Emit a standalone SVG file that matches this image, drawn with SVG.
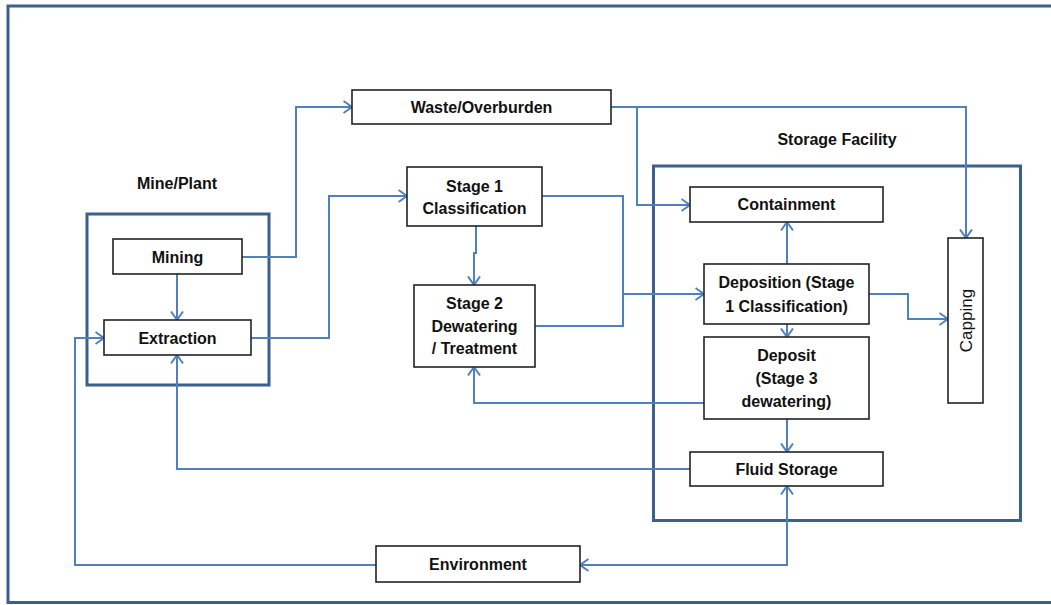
<svg xmlns="http://www.w3.org/2000/svg" width="1051" height="605" viewBox="0 0 1051 605">
  <style>
    .frame { fill: none; stroke: #3b5f8e; stroke-width: 3; }
    .box { fill: #ffffff; stroke: #222222; stroke-width: 1.6; }
    .lbl { font-family: "Liberation Sans", Arial, sans-serif; font-weight: bold; font-size: 16px; fill: #111111; text-anchor: middle; dominant-baseline: central; }
    .plain { font-family: "Liberation Sans", Arial, sans-serif; font-size: 17px; fill: #111111; text-anchor: middle; dominant-baseline: central; }
    .wire { fill: none; stroke: #4f81bd; stroke-width: 2; }
  </style>
  <defs>
    <marker id="arrow" viewBox="0 0 10 14" refX="9.5" refY="7" markerWidth="10" markerHeight="14" markerUnits="userSpaceOnUse" orient="auto-start-reverse">
      <path d="M1,1 L9.5,7 L1,13" fill="none" stroke="#4f81bd" stroke-width="2"/>
    </marker>
  </defs>

  <rect width="1051" height="605" fill="#ffffff"/>

  <!-- outer frame -->
  <rect class="frame" x="8" y="6" width="1060" height="596.5"/>

  <!-- group frames and their titles -->
  <g id="mine-plant">
    <rect class="frame" x="87" y="214" width="182" height="171"/>
    <text class="lbl" x="177" y="183">Mine/Plant</text>
  </g>
  <g id="storage-facility">
    <rect class="frame" x="653.5" y="166" width="367" height="354.5"/>
    <text class="lbl" x="837" y="139">Storage Facility</text>
  </g>

  <!-- connectors -->
  <g id="connectors" class="wire">
    <path d="M177,274 V320" marker-end="url(#arrow)"/>
    <path d="M242,257 H296 V107 H352" marker-end="url(#arrow)"/>
    <path d="M251,338 H329 V196 H407" marker-end="url(#arrow)"/>
    <path d="M476,226 V253 H474 V285" marker-end="url(#arrow)"/>
    <path d="M542,196 H623 V294 H704" marker-end="url(#arrow)"/>
    <path d="M535,326 H623 V294"/>
    <path d="M611,107 H966 V238" marker-end="url(#arrow)"/>
    <path d="M637,107 V205 H690" marker-end="url(#arrow)"/>
    <path d="M787,264 V222" marker-end="url(#arrow)"/>
    <path d="M869,294 H908 V319 H948" marker-end="url(#arrow)"/>
    <path d="M787,324 V337" marker-end="url(#arrow)"/>
    <path d="M704,403 H474 V367" marker-end="url(#arrow)"/>
    <path d="M787,419 V452" marker-end="url(#arrow)"/>
    <path d="M690,469 H177 V355" marker-end="url(#arrow)"/>
    <path d="M580,565 H787 V486" marker-start="url(#arrow)" marker-end="url(#arrow)"/>
    <path d="M376,565 H75 V338 H104" marker-end="url(#arrow)"/>
  </g>

  <!-- nodes -->
  <g id="mining">
    <rect class="box" x="113" y="239" width="129" height="35"/>
    <text class="lbl" x="177.5" y="257">Mining</text>
  </g>
  <g id="extraction">
    <rect class="box" x="104" y="320" width="147" height="35"/>
    <text class="lbl" x="177.5" y="338">Extraction</text>
  </g>
  <g id="waste-overburden">
    <rect class="box" x="352" y="90" width="259" height="34"/>
    <text class="lbl" x="481.5" y="107">Waste/Overburden</text>
  </g>
  <g id="stage1">
    <rect class="box" x="407" y="167" width="135" height="59"/>
    <text class="lbl" x="474.5" y="186">Stage 1</text>
    <text class="lbl" x="474.5" y="208">Classification</text>
  </g>
  <g id="stage2">
    <rect class="box" x="414" y="285" width="121" height="82"/>
    <text class="lbl" x="474.5" y="303">Stage 2</text>
    <text class="lbl" x="474.5" y="326">Dewatering</text>
    <text class="lbl" x="474.5" y="348">/ Treatment</text>
  </g>
  <g id="containment">
    <rect class="box" x="690" y="187" width="193" height="35"/>
    <text class="lbl" x="786.5" y="204.5">Containment</text>
  </g>
  <g id="deposition">
    <rect class="box" x="704" y="264" width="165" height="60"/>
    <text class="lbl" x="786.5" y="282">Deposition (Stage</text>
    <text class="lbl" x="786.5" y="306">1 Classification)</text>
  </g>
  <g id="deposit">
    <rect class="box" x="704" y="337" width="165" height="82"/>
    <text class="lbl" x="786.5" y="355">Deposit</text>
    <text class="lbl" x="786.5" y="378">(Stage 3</text>
    <text class="lbl" x="786.5" y="401">dewatering)</text>
  </g>
  <g id="fluid-storage">
    <rect class="box" x="690" y="452" width="193" height="34"/>
    <text class="lbl" x="786.5" y="469">Fluid Storage</text>
  </g>
  <g id="capping">
    <rect class="box" x="948" y="238" width="35" height="165"/>
    <text class="plain" x="0" y="0" transform="translate(966,320.5) rotate(-90)">Capping</text>
  </g>
  <g id="environment">
    <rect class="box" x="376" y="546" width="204" height="36"/>
    <text class="lbl" x="478" y="564.5">Environment</text>
  </g>
</svg>
